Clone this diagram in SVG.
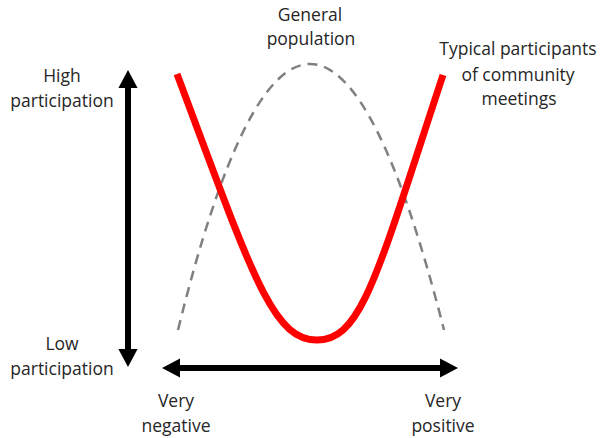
<svg xmlns="http://www.w3.org/2000/svg" width="600" height="438" viewBox="0 0 600 438">
<style>
text{font-family:"Open Sans","Liberation Sans",sans-serif;font-size:17.5px;fill:#262626;text-anchor:middle}
.ax{stroke:#000;stroke-width:6;fill:none}
</style>
<defs>
<marker id="ah" markerWidth="3" markerHeight="3.2" refX="0.3" refY="1.6" orient="auto-start-reverse" markerUnits="strokeWidth" viewBox="0 0 3 3.2">
<path d="M0,0 L3,1.6 L0,3.2 Z" fill="#000"/>
</marker>
</defs>
<rect width="600" height="438" fill="#fff"/>
<g id="connectors">
<line class="ax" x1="128" y1="350.8" x2="128" y2="86.2" marker-end="url(#ah)" marker-start="url(#ah)"/>
<line class="ax" x1="178.2" y1="368" x2="441.8" y2="368" marker-end="url(#ah)" marker-start="url(#ah)"/>
</g>
<g id="general-curve">
<path d="M178,330 Q309,-202 444,330" fill="none" stroke="#808080" stroke-width="2.5" stroke-dasharray="10,7"/>
</g>
<g id="participants-curve">
<path d="M177,74 C252,274 272,340 317,340 C362,340 377,275 443,75" fill="none" stroke="#ff0000" stroke-width="7"/>
</g>
<g id="label-general"><text x="310" y="21">General</text><text x="311" y="45">population</text></g>
<g id="label-typical"><text x="518" y="55">Typical participants</text><text x="518" y="81">of community</text><text x="519" y="105">meetings</text></g>
<g id="label-high"><text x="62" y="82">High</text><text x="62" y="107">participation</text></g>
<g id="label-low"><text x="62" y="350">Low</text><text x="62" y="375">participation</text></g>
<g id="label-neg"><text x="176" y="407">Very</text><text x="176" y="432">negative</text></g>
<g id="label-pos"><text x="443" y="407">Very</text><text x="443" y="432">positive</text></g>
</svg>
